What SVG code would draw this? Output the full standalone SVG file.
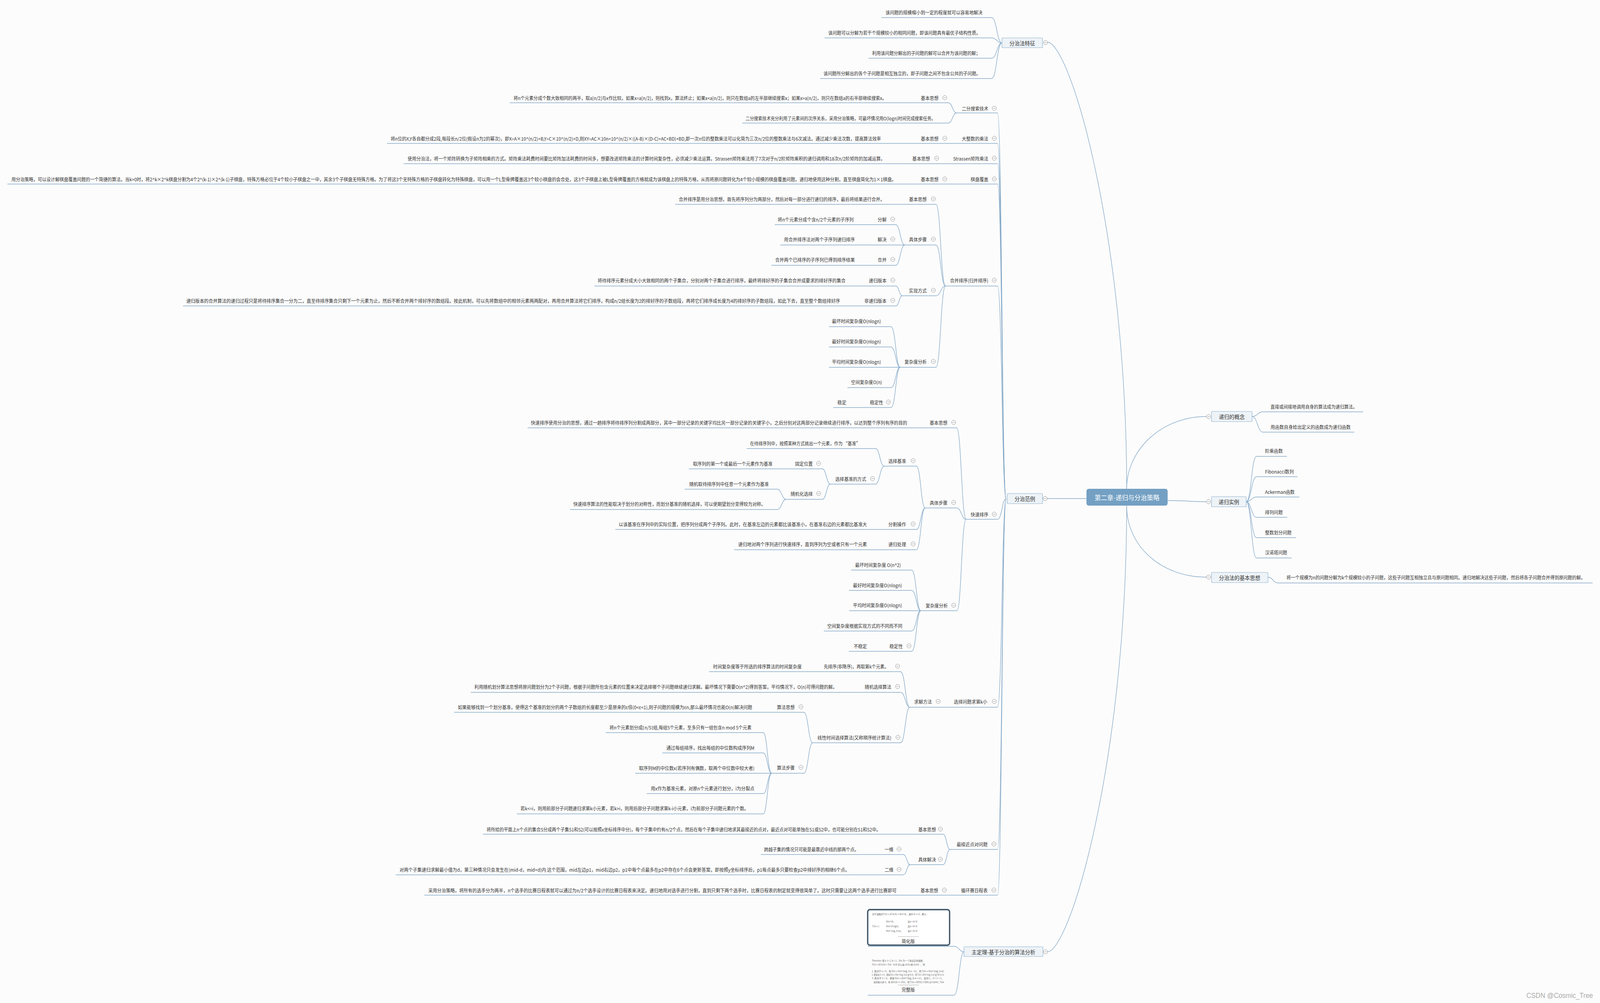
<svg xmlns="http://www.w3.org/2000/svg" width="4337" height="2567" viewBox="0 0 4337 2567" preserveAspectRatio="none" style="width:100%;height:100%">
<style>
.t{font-family:"Noto Sans CJK SC","Liberation Sans",sans-serif;font-size:12px;fill:#333;dominant-baseline:central}
.e{text-anchor:end}
.b{font-size:14px;text-anchor:middle}
.r{font-size:17px;fill:#fff;text-anchor:middle}
.f{font-size:6px;fill:#666;dominant-baseline:auto}
.ln{fill:none;stroke:#85a9c8;stroke-width:1.4}
.bx{fill:#eef3f7;stroke:#8db1ce;stroke-width:1.2}
.wm{font-family:"Liberation Sans",sans-serif;font-size:18px;fill:#aaa;text-anchor:end}
</style>
<defs>
<g id="m"><circle r="5.5" fill="#fff" stroke="#8c8c8c" stroke-width="1"/><line x1="-3" y1="0" x2="3" y2="0" stroke="#8c8c8c" stroke-width="1"/></g>
</defs>
<rect width="4337" height="2567" fill="#fcfcfc"/>
<g id="connectors">
<path class="ln" d="M2839 108 C2900 108 3054 600 3054 1251"/>
<path class="ln" d="M2839 2436 C2900 2436 3054 1945 3054 1294"/>
<path class="ln" d="M3054 1251 C3054 1150 3150 1066 3270 1066"/>
<path class="ln" d="M3054 1294 C3054 1400 3150 1477 3270 1477"/>
<path class="ln" d="M3165 1281 C3220 1281 3220 1284 3270 1284"/>
<path class="ln" d="M2839 1276 L2945 1276" stroke-width="2"/>
<path class="ln" d="M2389 45 H2688 C2702 45 2702 110 2716 110"/>
<path class="ln" d="M2235 97 H2688 C2702 97 2702 110 2716 110"/>
<path class="ln" d="M2354 149 H2688 C2702 149 2702 110 2716 110"/>
<path class="ln" d="M2223 201 H2688 C2702 201 2702 110 2716 110"/>
<path class="ln" d="M3394 1066 C3408 1066 3409 1054 3423 1054 H3695"/>
<path class="ln" d="M3394 1066 C3408 1066 3409 1106 3423 1106 H3671"/>
<path class="ln" d="M3378 1284 C3392 1284 3392 1168 3406 1168 H3488"/>
<path class="ln" d="M3378 1284 C3392 1284 3392 1220 3406 1220 H3517"/>
<path class="ln" d="M3378 1284 C3392 1284 3392 1272 3406 1272 H3522"/>
<path class="ln" d="M3378 1284 C3392 1284 3392 1324 3406 1324 H3489"/>
<path class="ln" d="M3378 1284 C3392 1284 3392 1376 3406 1376 H3513"/>
<path class="ln" d="M3378 1284 C3392 1284 3392 1428 3406 1428 H3501"/>
<path class="ln" d="M3437 1477 C3450 1477 3451 1492 3464 1492 H4317"/>
<path class="ln" d="M2593 289 H2704 C2716 289 2716 1277 2727 1277"/>
<path class="ln" d="M1049 367 H2704 C2716 367 2716 1277 2727 1277"/>
<path class="ln" d="M1094 419 H2704 C2716 419 2716 1277 2727 1277"/>
<path class="ln" d="M20 471 H2704 C2716 471 2716 1277 2727 1277"/>
<path class="ln" d="M2563 732 H2704 C2716 732 2716 1277 2727 1277"/>
<path class="ln" d="M2619 1329 H2704 C2716 1329 2716 1277 2727 1277"/>
<path class="ln" d="M2466 1810 H2704 C2716 1810 2716 1277 2727 1277"/>
<path class="ln" d="M2575 2174 H2704 C2716 2174 2716 1277 2727 1277"/>
<path class="ln" d="M1150 2291 H2704 C2716 2291 2716 1277 2727 1277"/>
<path class="ln" d="M1382 263 H2570 C2582 263 2582 289 2593 289"/>
<path class="ln" d="M2012 315 H2570 C2582 315 2582 289 2593 289"/>
<path class="ln" d="M1830 523 H2537 C2550 523 2550 732 2563 732"/>
<path class="ln" d="M2453 627 H2537 C2550 627 2550 732 2563 732"/>
<path class="ln" d="M2446 757 H2537 C2550 757 2550 732 2563 732"/>
<path class="ln" d="M2440 940 H2537 C2550 940 2550 732 2563 732"/>
<path class="ln" d="M2100 575 H2428 C2440 575 2440 627 2453 627"/>
<path class="ln" d="M2115 627 H2453"/>
<path class="ln" d="M2091 679 H2428 C2440 679 2440 627 2453 627"/>
<path class="ln" d="M1611 732 H2428 C2437 732 2437 757 2446 757"/>
<path class="ln" d="M496 783 H2428 C2437 783 2437 757 2446 757"/>
<path class="ln" d="M2247 836 H2415 C2428 836 2428 940 2440 940"/>
<path class="ln" d="M2247 888 H2415 C2428 888 2428 940 2440 940"/>
<path class="ln" d="M2247 940 H2440"/>
<path class="ln" d="M2297 992 H2415 C2428 992 2428 940 2440 940"/>
<path class="ln" d="M2259 1043 H2415 C2428 1043 2428 940 2440 940"/>
<path class="ln" d="M1430 1095 H2593 C2606 1095 2606 1329 2619 1329"/>
<path class="ln" d="M2508 1300 H2593 C2606 1300 2606 1329 2619 1329"/>
<path class="ln" d="M2496 1563 H2594 C2606 1563 2606 1329 2619 1329"/>
<path class="ln" d="M2397 1193 H2484 C2496 1193 2496 1300 2508 1300"/>
<path class="ln" d="M1668 1355 H2484 C2496 1355 2496 1300 2508 1300"/>
<path class="ln" d="M1990 1407 H2484 C2496 1407 2496 1300 2508 1300"/>
<path class="ln" d="M2024 1148 H2373 C2385 1148 2385 1193 2397 1193"/>
<path class="ln" d="M2251 1239 H2373 C2385 1239 2385 1193 2397 1193"/>
<path class="ln" d="M1867 1200 H2229 C2240 1200 2240 1239 2251 1239"/>
<path class="ln" d="M2131 1278 H2229 C2240 1278 2240 1239 2251 1239"/>
<path class="ln" d="M1856 1252 H2107 C2119 1252 2119 1278 2131 1278"/>
<path class="ln" d="M1545 1304 H2107 C2119 1304 2119 1278 2131 1278"/>
<path class="ln" d="M2307 1459 H2471 C2484 1459 2484 1563 2496 1563"/>
<path class="ln" d="M2301 1511 H2471 C2484 1511 2484 1563 2496 1563"/>
<path class="ln" d="M2302 1563 H2496"/>
<path class="ln" d="M2233 1615 H2471 C2484 1615 2484 1563 2496 1563"/>
<path class="ln" d="M2301 1667 H2471 C2484 1667 2484 1563 2496 1563"/>
<path class="ln" d="M1922 1719 H2441 C2454 1719 2454 1810 2466 1810"/>
<path class="ln" d="M1276 1772 H2441 C2454 1772 2454 1810 2466 1810"/>
<path class="ln" d="M2203 1901 H2441 C2454 1901 2454 1810 2466 1810"/>
<path class="ln" d="M1231 1823 H2179 C2191 1823 2191 1901 2203 1901"/>
<path class="ln" d="M2092 1979 H2179 C2191 1979 2191 1901 2203 1901"/>
<path class="ln" d="M1642 1875 H2069 C2080 1875 2080 1979 2092 1979"/>
<path class="ln" d="M1795 1927 H2069 C2080 1927 2080 1979 2092 1979"/>
<path class="ln" d="M1722 1979 H2092"/>
<path class="ln" d="M1753 2031 H2069 C2080 2031 2080 1979 2092 1979"/>
<path class="ln" d="M1401 2083 H2069 C2080 2083 2080 1979 2092 1979"/>
<path class="ln" d="M1309 2135 H2556 C2566 2135 2566 2174 2575 2174"/>
<path class="ln" d="M2467 2213 H2556 C2566 2213 2566 2174 2575 2174"/>
<path class="ln" d="M2062 2187 H2448 C2458 2187 2458 2213 2467 2213"/>
<path class="ln" d="M1073 2239 H2448 C2458 2239 2458 2213 2467 2213"/>
<path class="ln" d="M2352 2422 H2586 C2600 2422 2600 2436 2613 2436"/>
<path class="ln" d="M2352 2547 H2586 C2600 2547 2600 2436 2613 2436"/>
</g>

<g id="root">
<rect x="2945" y="1251" width="220" height="43" rx="6" fill="#73a0c3"/>
<text class="t r" x="3055" y="1273">第二章-递归与分治策略</text>
</g>

<g id="n-tezheng">
<rect class="bx" x="2716" y="97" width="110" height="25" rx="2"/>
<text class="t b" x="2771" y="110">分治法特征</text>
<use href="#m" x="2834" y="109"/>
<text class="t e" x="2663" y="31" textLength="263" lengthAdjust="spacingAndGlyphs">该问题的规模缩小到一定的程度就可以容易地解决</text>
<text class="t e" x="2658" y="83" textLength="413" lengthAdjust="spacingAndGlyphs">该问题可以分解为若干个规模较小的相同问题，即该问题具有最优子结构性质。</text>
<text class="t e" x="2657" y="135" textLength="293" lengthAdjust="spacingAndGlyphs">利用该问题分解出的子问题的解可以合并为该问题的解；</text>
<text class="t e" x="2658" y="187" textLength="426" lengthAdjust="spacingAndGlyphs">该问题所分解出的各个子问题是相互独立的，即子问题之间不包含公共的子问题。</text>
</g>

<g id="n-fanli">
<rect class="bx" x="2730" y="1263" width="96" height="26" rx="2"/>
<text class="t b" x="2778" y="1276">分治范例</text>
<use href="#m" x="2833" y="1276"/>
</g>

<g id="n-erfen">
<text class="t e" x="2679" y="277">二分搜索技术</text><use href="#m" x="2695" y="277"/>
<text class="t e" x="2544" y="250">基本思想</text><use href="#m" x="2561" y="250"/>
<text class="t e" x="2403" y="250" textLength="1011" lengthAdjust="spacingAndGlyphs">将n个元素分成个数大致相同的两半，取a[n/2]与x作比较。如果x=a[n/2]，则找到x，算法终止；如果x&lt;a[n/2]，则只在数组a的左半部继续搜索x；如果x&gt;a[n/2]，则只在数组a的右半部继续搜索x。</text>
<text class="t e" x="2536" y="302" textLength="515" lengthAdjust="spacingAndGlyphs">二分搜索技术充分利用了元素间的次序关系，采用分治策略，可最坏情况用O(logn)时间完成搜索任务。</text>
</g>

<g id="n-dazhengshu">
<text class="t e" x="2679" y="354">大整数的乘法</text><use href="#m" x="2695" y="354"/>
<text class="t e" x="2544" y="354">基本思想</text><use href="#m" x="2561" y="354"/>
<text class="t e" x="2388" y="354" textLength="1329" lengthAdjust="spacingAndGlyphs">将n位的X,Y各自都分成2段,每段长n/2位(假设n为2的幂次)，即X=A×10^(n/2)+B,Y=C×10^(n/2)+D,则XY=AC×10n+10^(n/2)×((A-B)×(D-C)+AC+BD)+BD,即一次n位的整数乘法可以化简为三次n/2位的整数乘法与6次减法。通过减少乘法次数，提高算法效率</text>
</g>

<g id="n-strassen">
<text class="t e" x="2679" y="405">Strassen矩阵乘法</text><use href="#m" x="2695" y="405"/>
<text class="t e" x="2521" y="405">基本思想</text><use href="#m" x="2539" y="405"/>
<text class="t e" x="2399" y="405" textLength="1294" lengthAdjust="spacingAndGlyphs">使用分治法，将一个矩阵转换为子矩阵相乘的方式。矩阵乘法耗费时间要比矩阵加法耗费的时间多，想要改进矩阵乘法的计算时间复杂性，必须减少乘法运算。Strassen矩阵乘法用了7次对于n/2阶矩阵乘积的递归调用和18次n/2阶矩阵的加减运算。</text>
</g>

<g id="n-qipan">
<text class="t e" x="2679" y="458">棋盘覆盖</text><use href="#m" x="2695" y="458"/>
<text class="t e" x="2544" y="458">基本思想</text><use href="#m" x="2561" y="458"/>
<text class="t e" x="2429" y="458" textLength="2398" lengthAdjust="spacingAndGlyphs">用分治策略，可以设计解棋盘覆盖问题的一个简捷的算法。当k&gt;0时，将2^k×2^k棋盘分割为4个2^(k-1)×2^(k-1)子棋盘，特殊方格必位于4个较小子棋盘之一中，其余3个子棋盘无特殊方格。为了将这3个无特殊方格的子棋盘转化为特殊棋盘，可以用一个L型骨牌覆盖这3个较小棋盘的会合处，这3个子棋盘上被L型骨牌覆盖的方格就成为该棋盘上的特殊方格，从而将原问题转化为4个较小规模的棋盘覆盖问题。递归地使用这种分割，直至棋盘简化为1×1棋盘。</text>
</g>

<g id="n-hebing">
<text class="t e" x="2679" y="717">合并排序(归并排序)</text><use href="#m" x="2695" y="717"/>
<text class="t e" x="2512" y="509">基本思想</text><use href="#m" x="2530" y="509"/>
<text class="t e" x="2398" y="509" textLength="558" lengthAdjust="spacingAndGlyphs">合并排序是用分治思想，首先将序列分为两部分，然后对每一部分进行递归的排序，最后将结果进行合并。</text>
<text class="t e" x="2512" y="612">具体步骤</text><use href="#m" x="2530" y="612"/>
<text class="t e" x="2403" y="561">分解</text><use href="#m" x="2420" y="561"/>
<text class="t e" x="2314" y="561">将n个元素分成个含n/2个元素的子序列</text>
<text class="t e" x="2403" y="612">解决</text><use href="#m" x="2420" y="612"/>
<text class="t e" x="2317" y="612">用合并排序法对两个子序列递归排序</text>
<text class="t e" x="2403" y="664">合并</text><use href="#m" x="2420" y="664"/>
<text class="t e" x="2317" y="664">合并两个已排序的子序列已得到排序结果</text>
<text class="t e" x="2512" y="743">实现方式</text><use href="#m" x="2530" y="743"/>
<text class="t e" x="2403" y="717">递归版本</text><use href="#m" x="2420" y="717"/>
<text class="t e" x="2292" y="717" textLength="672" lengthAdjust="spacingAndGlyphs">将待排序元素分成大小大致相同的两个子集合，分别对两个子集合进行排序，最终将排好序的子集合合并成要求的排好序的集合</text>
<text class="t e" x="2403" y="769">非递归版本</text><use href="#m" x="2420" y="769"/>
<text class="t e" x="2277" y="769" textLength="1772" lengthAdjust="spacingAndGlyphs">递归版本的合并算法的递归过程只是将待排序集合一分为二，直至待排序集合只剩下一个元素为止，然后不断合并两个排好序的数组段。按此机制，可以先将数组中的相邻元素两两配对，再用合并算法将它们排序，构成n/2组长度为2的排好序的子数组段，再将它们排序成长度为4的排好序的子数组段，如此下去，直至整个数组排好序</text>
<text class="t e" x="2512" y="925">复杂度分析</text><use href="#m" x="2530" y="925"/>
<text class="t e" x="2388" y="821">最坏时间复杂度O(nlogn)</text>
<text class="t e" x="2388" y="873">最好时间复杂度O(nlogn)</text>
<text class="t e" x="2388" y="925">平均时间复杂度O(nlogn)</text>
<text class="t e" x="2391" y="977">空间复杂度O(n)</text>
<text class="t e" x="2394" y="1029">稳定性</text><use href="#m" x="2408" y="1029"/>
<text class="t e" x="2294" y="1029">稳定</text>
</g>

<g id="n-kuaisu">
<text class="t e" x="2679" y="1316">快速排序</text><use href="#m" x="2695" y="1316"/>
<text class="t e" x="2568" y="1081">基本思想</text><use href="#m" x="2585" y="1081"/>
<text class="t e" x="2459" y="1081" textLength="1020" lengthAdjust="spacingAndGlyphs">快速排序使用分治的思想，通过一趟排序将待排序列分割成两部分，其中一部分记录的关键字均比另一部分记录的关键字小，之后分别对这两部分记录继续进行排序，以达到整个序列有序的目的</text>
<text class="t e" x="2568" y="1286">具体步骤</text><use href="#m" x="2585" y="1286"/>
<text class="t e" x="2456" y="1179">选择基准</text><use href="#m" x="2475" y="1179"/>
<text class="t e" x="2332" y="1134" textLength="299" lengthAdjust="spacingAndGlyphs">在待排序列中，按照某种方式挑出一个元素，作为 “基准”</text>
<text class="t e" x="2348" y="1225">选择基准的方式</text><use href="#m" x="2365" y="1225"/>
<text class="t e" x="2203" y="1186">固定位置</text><use href="#m" x="2219" y="1186"/>
<text class="t e" x="2094" y="1186">取序列的第一个或最后一个元素作为基准</text>
<text class="t e" x="2203" y="1263">随机化选择</text><use href="#m" x="2219" y="1263"/>
<text class="t e" x="2084" y="1238">随机取待排序列中任意一个元素作为基准</text>
<text class="t e" x="2075" y="1289" textLength="521" lengthAdjust="spacingAndGlyphs">快速排序算法的性能取决于划分的对称性，而划分基准的随机选择，可以使期望划分变得较为对称。</text>
<text class="t e" x="2456" y="1341">分割操作</text><use href="#m" x="2475" y="1341"/>
<text class="t e" x="2350" y="1341" textLength="673" lengthAdjust="spacingAndGlyphs">以该基准在序列中的实际位置，把序列分成两个子序列。此时，在基准左边的元素都比该基准小，在基准右边的元素都比基准大</text>
<text class="t e" x="2456" y="1392">递归处理</text><use href="#m" x="2475" y="1392"/>
<text class="t e" x="2350" y="1392" textLength="349" lengthAdjust="spacingAndGlyphs">递归地对两个序列进行快速排序，直到序列为空或者只有一个元素</text>
<text class="t e" x="2569" y="1549">复杂度分析</text><use href="#m" x="2585" y="1549"/>
<text class="t e" x="2442" y="1445">最坏时间复杂度 O(n^2)</text>
<text class="t e" x="2445" y="1497">最好时间复杂度O(nlogn)</text>
<text class="t e" x="2445" y="1548">平均时间复杂度O(nlogn)</text>
<text class="t e" x="2446" y="1601">空间复杂度根据实现方式的不同而不同</text>
<text class="t e" x="2447" y="1653">稳定性</text><use href="#m" x="2464" y="1653"/>
<text class="t e" x="2350" y="1653">不稳定</text>
</g>

<g id="n-xuanze">
<text class="t e" x="2676" y="1795">选择问题求第k小</text><use href="#m" x="2695" y="1795"/>
<text class="t e" x="2526" y="1795">求解方法</text><use href="#m" x="2543" y="1795"/>
<text class="t e" x="2409" y="1705" textLength="176" lengthAdjust="spacingAndGlyphs">先排序(非降序)，再取第k个元素。</text><use href="#m" x="2433" y="1705"/>
<text class="t e" x="2173" y="1705" textLength="240" lengthAdjust="spacingAndGlyphs">时间复杂度等于所选的排序算法的时间复杂度</text>
<text class="t e" x="2416" y="1757">随机选择算法</text><use href="#m" x="2433" y="1757"/>
<text class="t e" x="2269" y="1757" textLength="983" lengthAdjust="spacingAndGlyphs">利用随机划分算法思想将原问题划分为2个子问题，根据子问题所包含元素的位置来决定选择哪个子问题继续递归求解。最坏情况下需要O(n^2)得到答案，平均情况下，O(n)可得问题的解。</text>
<text class="t e" x="2416" y="1887" textLength="200" lengthAdjust="spacingAndGlyphs">线性时间选择算法(又称顺序统计算法)</text><use href="#m" x="2434" y="1887"/>
<text class="t e" x="2154" y="1809">算法思想</text><use href="#m" x="2171" y="1809"/>
<text class="t e" x="2039" y="1809" textLength="798" lengthAdjust="spacingAndGlyphs">如果能够找到一个划分基准，使得这个基准的划分的两个子数组的长度都至少是原来的ε倍(0&lt;ε&lt;1),则子问题的规模为εn,那么最坏情况也能O(n)解决问题</text>
<text class="t e" x="2154" y="1964">算法步骤</text><use href="#m" x="2171" y="1964"/>
<text class="t e" x="2037" y="1861" textLength="385" lengthAdjust="spacingAndGlyphs">将n个元素划分成⌈n/5⌉组,每组5个元素，至多只有一组包含n mod 5个元素</text>
<text class="t e" x="2045" y="1913" textLength="239" lengthAdjust="spacingAndGlyphs">通过每组排序，找出每组的中位数构成序列M</text>
<text class="t e" x="2045" y="1965" textLength="313" lengthAdjust="spacingAndGlyphs">取序列M的中位数x(若序列有偶数，取两个中位数中较大者)</text>
<text class="t e" x="2045" y="2017" textLength="281" lengthAdjust="spacingAndGlyphs">用x作为基准元素，对原n个元素进行划分，i为分裂点</text>
<text class="t e" x="2029" y="2068" textLength="618" lengthAdjust="spacingAndGlyphs">若k&lt;=i，则用前部分子问题递归求第k小元素，若k&gt;i，则用后部分子问题求第k-i小元素，i为前部分子问题元素的个数。</text>
</g>

<g id="n-zuijiejin">
<text class="t e" x="2677" y="2160">最接近点对问题</text><use href="#m" x="2694" y="2160"/>
<text class="t e" x="2537" y="2122">基本思想</text><use href="#m" x="2549" y="2122"/>
<text class="t e" x="2387" y="2122" textLength="1068" lengthAdjust="spacingAndGlyphs">将所给的平面上n个点的集合S分成两个子集S1和S2(可以按照x坐标排序中分)，每个子集中约有n/2个点，然后在每个子集中递归地求其最接近的点对，最近点对可能单独在S1或S2中，也可能分别在S1和S2中。</text>
<text class="t e" x="2537" y="2199">具体解决</text><use href="#m" x="2549" y="2199"/>
<text class="t e" x="2422" y="2173">一维</text><use href="#m" x="2437" y="2173"/>
<text class="t e" x="2328" y="2173" textLength="257" lengthAdjust="spacingAndGlyphs">跨越子集的情况只可能是最靠近中线的那两个点。</text>
<text class="t e" x="2422" y="2225">二维</text><use href="#m" x="2437" y="2225"/>
<text class="t e" x="2303" y="2225" textLength="1220" lengthAdjust="spacingAndGlyphs">对两个子集递归求解最小值为d，第三种情况只会发生在(mid-d，mid+d)内 这个范围，mid左边p1，mid右边p2，p1中每个点最多在p2中存在6个点会更新答案，即按照y坐标排序后，p1每点最多只要检查p2中排好序的相继6个点。</text>
</g>

<g id="n-xunhuan">
<text class="t e" x="2677" y="2278">循环赛日程表</text><use href="#m" x="2694" y="2278"/>
<text class="t e" x="2543" y="2278">基本思想</text><use href="#m" x="2560" y="2278"/>
<text class="t e" x="2430" y="2278" textLength="1269" lengthAdjust="spacingAndGlyphs">采用分治策略，将所有的选手分为两半，n个选手的比赛日程表就可以通过为n/2个选手设计的比赛日程表来决定。递归地用对选手进行分割，直到只剩下两个选手时，比赛日程表的制定就变得很简单了。这时只需要让这两个选手进行比赛即可</text>
</g>

<g id="n-zhudingli">
<rect class="bx" x="2613" y="2423" width="214" height="25" rx="2"/>
<text class="t b" x="2720" y="2436">主定理-基于分治的算法分析</text>
<use href="#m" x="2834" y="2436"/>
</g>

<g id="n-jianhua">
<rect x="2352" y="2328" width="222" height="91" rx="6" fill="#fff" stroke="#3d5466" stroke-width="3.5"/>
<text class="t f" x="2364" y="2342">对于递推式T(n) = aT(n/b) + Θ(n^d)，其中 d &gt;= 0，那么：</text>
<text class="t f" x="2402" y="2361">Θ(n^d),</text><text class="t f" x="2460" y="2361">当a &lt; b^d</text>
<text class="t f" x="2364" y="2373">T(n) = {</text>
<text class="t f" x="2402" y="2373">Θ(n^d logn),</text><text class="t f" x="2460" y="2373">当a = b^d</text>
<text class="t f" x="2402" y="2385">Θ(n^(log_b a)),</text><text class="t f" x="2460" y="2385">当a &gt; b^d</text>
<line x1="2434" y1="2397" x2="2491" y2="2397" stroke="#999" stroke-width="0.8"/>
<text class="t" x="2462" y="2408" text-anchor="middle">简化版</text>
</g>

<g id="n-wanzheng">
<text class="t f" x="2363" y="2461">Theorem: 若 a ≥ 1, b &gt; 1，f(n) 为一个渐近正的函数，</text>
<text class="t f" x="2363" y="2471">T(n) = aT(n/b) + f(n)（n/b 可以是 ⌊n/b⌋ 或 ⌈n/b⌉），则</text>
<text class="t f" x="2363" y="2488" textLength="196" lengthAdjust="spacingAndGlyphs">1. 若对于 ε &gt; 0，有 f(n) = O(n^(log_b a − ε))，则 T(n) = Θ(n^(log_b a))</text>
<text class="t f" x="2363" y="2497" textLength="196" lengthAdjust="spacingAndGlyphs">2. 若存在 k ≥ 0，使得 f(n) = Θ(n^(log_b a) lg^k n)，则 T(n) = Θ(n^(log_b a) lg^(k+1) n)</text>
<text class="t f" x="2363" y="2506" textLength="196" lengthAdjust="spacingAndGlyphs">3. 若对于 ε &gt; 0，使得 f(n) = Ω(n^(log_b a + ε))，且对 c，0 &lt; c &lt; 1，</text>
<text class="t f" x="2368" y="2516" textLength="191" lengthAdjust="spacingAndGlyphs">和足够大的 n，有 af(n/b) ≤ cf(n)，则 T(n) = Θ(f(n))   CSDN @Cosmic_Tree</text>
<line x1="2434" y1="2521" x2="2491" y2="2521" stroke="#999" stroke-width="0.8"/>
<text class="t" x="2462" y="2532" text-anchor="middle">完整版</text>
</g>

<g id="n-digui-gainian">
<rect class="bx" x="3284" y="1053" width="110" height="26" rx="2"/>
<text class="t b" x="3339" y="1066">递归的概念</text>
<use href="#m" x="3276" y="1066"/>
<text class="t" x="3444" y="1040" textLength="235" lengthAdjust="spacingAndGlyphs">直接或间接地调用自身的算法成为递归算法。</text>
<text class="t" x="3444" y="1092" textLength="217" lengthAdjust="spacingAndGlyphs">用函数自身给出定义的函数成为递归函数</text>
</g>

<g id="n-digui-shili">
<rect class="bx" x="3284" y="1271" width="94" height="26" rx="2"/>
<text class="t b" x="3331" y="1284">递归实例</text>
<use href="#m" x="3276" y="1284"/>
<text class="t" x="3429" y="1153">阶乘函数</text>
<text class="t" x="3429" y="1206">Fibonacci数列</text>
<text class="t" x="3429" y="1258">Ackerman函数</text>
<text class="t" x="3429" y="1310">排列问题</text>
<text class="t" x="3429" y="1362">整数划分问题</text>
<text class="t" x="3429" y="1413">汉诺塔问题</text>
</g>

<g id="n-jiben">
<rect class="bx" x="3284" y="1465" width="153" height="26" rx="2"/>
<text class="t b" x="3360" y="1478">分治法的基本思想</text>
<use href="#m" x="3276" y="1477"/>
<text class="t" x="3487" y="1477" textLength="810" lengthAdjust="spacingAndGlyphs">将一个规模为n的问题分解为k个规模较小的子问题，这些子问题互相独立且与原问题相同。递归地解决这些子问题，然后将各子问题合并得到原问题的解。</text>
</g>

<text class="wm" x="4318" y="2554">CSDN @Cosmic_Tree</text>
</svg>
